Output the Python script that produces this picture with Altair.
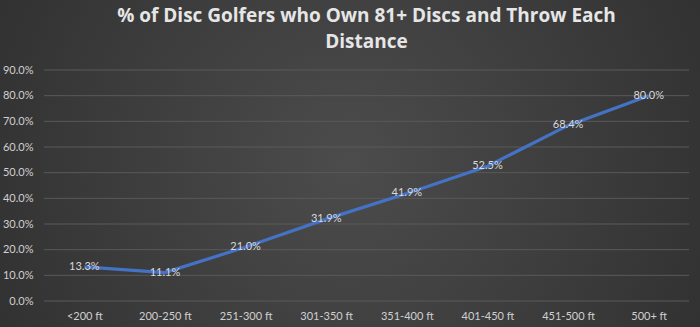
import altair as alt
import pandas as pd

categories = ["<200 ft", "200-250 ft", "251-300 ft", "301-350 ft", "351-400 ft",
              "401-450 ft", "451-500 ft", "500+ ft"]
values = [0.133, 0.111, 0.210, 0.319, 0.419, 0.525, 0.684, 0.800]
labels = ["13.3%", "11.1%", "21.0%", "31.9%", "41.9%", "52.5%", "68.4%", "80.0%"]
y_ticks = [0, 0.1, 0.2, 0.3, 0.4, 0.5, 0.6, 0.7, 0.8, 0.9]

df = pd.DataFrame({"cat": categories, "val": values, "lab": labels})
grid_df = pd.DataFrame({"v": y_ticks})

W, H = 645, 231
PL, PT, PR, PB = 44, 70, 11, 26

x_enc = alt.X("cat:N", sort=categories,
              scale=alt.Scale(type="point", padding=0.5),
              axis=alt.Axis(title=None, labelAngle=0, labelColor="#d0d0d0",
                            labelFontSize=11, labelFont="Lato", labelPadding=9,
                            ticks=False, domain=False, grid=False, zindex=1))
y_scale = alt.Scale(domain=[0, 0.9], nice=False)
y_axis = alt.Axis(title=None, values=y_ticks, format=".1%",
                  labelColor="#d0d0d0", labelFontSize=11, labelFont="Lato",
                  labelPadding=11, ticks=False, domain=False,
                  grid=False, zindex=1)
y_enc = alt.Y("val:Q", scale=y_scale, axis=y_axis)

bg = alt.Chart(df).mark_rect(
    color=alt.RadialGradient(
        gradient="radial", x1=0.5, y1=0.5, x2=0.5, y2=0.5, r1=0, r2=0.75,
        stops=[alt.GradientStop(offset=0, color="#4c4c4c"),
               alt.GradientStop(offset=1, color="#282828")]
    )
).encode(
    x=alt.value(-PL), x2=alt.value(W + PR),
    y=alt.value(-PT), y2=alt.value(H + PB)
)

grid = alt.Chart(grid_df).mark_rule(color="#5a5a5a", strokeWidth=1).encode(
    y=alt.Y("v:Q", scale=y_scale, axis=y_axis),
    x=alt.value(0), x2=alt.value(W)
)

line = alt.Chart(df).mark_line(color="#4472C4", strokeWidth=3.2).encode(
    x=x_enc, y=y_enc
)

text = alt.Chart(df).mark_text(color="#d9d9d9", fontSize=11, font="Lato").encode(
    x=x_enc, y=y_enc, text="lab:N"
)

chart = alt.layer(bg, grid, line, text).properties(
    width=W, height=H,
    title=alt.TitleParams(
        text=["% of Disc Golfers who Own 81+ Discs and Throw Each", "Distance"],
        font="Open Sans", fontSize=19, fontWeight="bold", color="#e6e6e6",
        lineHeight=26, anchor="middle", offset=-52, zindex=1
    ),
    padding={"left": PL, "top": PT, "right": PR, "bottom": PB},
    autosize=alt.AutoSizeParams(type="none"),
    background="#333333"
).configure_view(stroke=None)

chart.save("out.html", embed_options={"renderer": "svg", "actions": False})
